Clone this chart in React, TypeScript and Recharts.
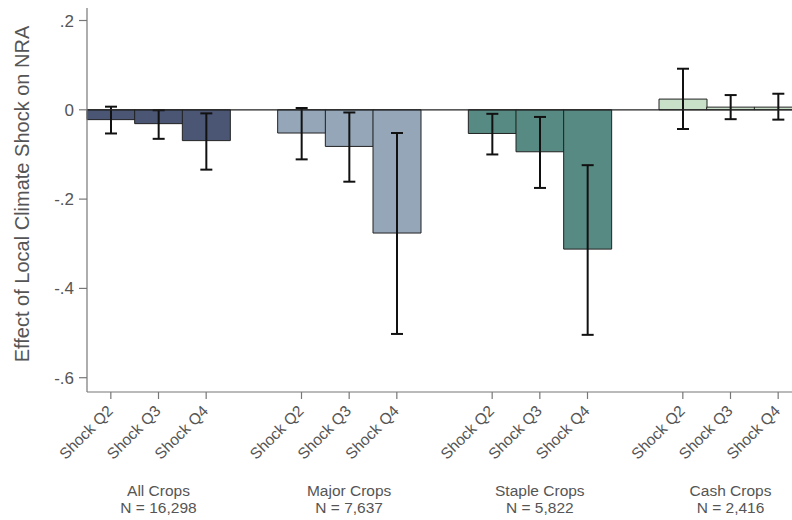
import { Bar, BarChart, Cell, ErrorBar, ReferenceLine, XAxis, YAxis } from 'recharts';

const groups = ['All Crops', 'Major Crops', 'Staple Crops', 'Cash Crops'];
const groupN = ['N = 16,298', 'N = 7,637', 'N = 5,822', 'N = 2,416'];
const shocks = ['Shock Q2', 'Shock Q3', 'Shock Q4'];

// point estimates per group (Q2, Q3, Q4)
const effects = [
  [-0.022, -0.031, -0.069],
  [-0.052, -0.082, -0.276],
  [-0.053, -0.094, -0.312],
  [0.024, 0.006, 0.006],
];
// confidence interval bounds
const ciLow = [
  [-0.053, -0.065, -0.134],
  [-0.111, -0.161, -0.502],
  [-0.1, -0.175, -0.504],
  [-0.043, -0.021, -0.022],
];
const ciHigh = [
  [0.007, -0.001, -0.008],
  [0.004, -0.006, -0.052],
  [-0.009, -0.016, -0.124],
  [0.092, 0.033, 0.036],
];

const yTicks = [-0.6, -0.4, -0.2, 0, 0.2];
const groupColors = ['#4b5674', '#95a6b9', '#578a82', '#c8e0c8'];

type Row = {
  key: string;
  label: string;
  value: number | null;
  err: [number, number] | null;
  group: number;
  mid: boolean;
};

const rows: Row[] = [];
groups.forEach((_, g) => {
  shocks.forEach((s, i) => {
    const v = effects[g][i];
    rows.push({
      key: `g${g}q${i}`,
      label: s,
      value: v,
      err: [v - ciLow[g][i], ciHigh[g][i] - v],
      group: g,
      mid: i === 1,
    });
  });
  if (g < groups.length - 1) {
    rows.push({ key: `gap${g}`, label: '', value: null, err: null, group: -1, mid: false });
  }
});

const AXIS_Y = 392;
const TEXT = '#555';

function fmt(v: number) {
  if (v === 0) return '0';
  const s = v.toFixed(1);
  return s.replace('0.', '.');
}

function XTick(props: any) {
  const { x, index } = props;
  const row = rows[index];
  if (!row || row.group < 0) return null;
  return (
    <g>
      <line x1={x} x2={x} y1={AXIS_Y} y2={AXIS_Y + 7} stroke="#777" strokeWidth={1.2} />
      <text
        x={x + 3}
        y={AXIS_Y + 20}
        textAnchor="end"
        fontSize={15.5}
        fill={TEXT}
        transform={`rotate(-45, ${x + 3}, ${AXIS_Y + 20})`}
      >
        {row.label}
      </text>
      {row.mid && (
        <>
          <text x={x} y={AXIS_Y + 104} textAnchor="middle" fontSize={15.5} fill={TEXT}>
            {groups[row.group]}
          </text>
          <text x={x} y={AXIS_Y + 121} textAnchor="middle" fontSize={15.5} fill={TEXT}>
            {groupN[row.group]}
          </text>
        </>
      )}
    </g>
  );
}

export default function App() {
  return (
    <div
      style={{
        width: 792,
        height: 520,
        overflow: 'hidden',
        position: 'relative',
        background: '#fff',
        fontFamily: '"Liberation Sans", Arial, sans-serif',
      }}
    >
      <style>{'html,body{margin:0;padding:0;overflow:hidden}'}</style>
      <BarChart
        width={810}
        height={520}
        data={rows}
        margin={{ top: 8, right: 8, left: 0, bottom: 0 }}
        barCategoryGap={0}
        barGap={0}
      >
        <XAxis
          dataKey="key"
          interval={0}
          height={128}
          axisLine={{ stroke: '#777', strokeWidth: 1.2 }}
          tickLine={false}
          tick={<XTick />}
        />
        <YAxis
          width={87}
          domain={[-0.632, 0.228]}
          ticks={yTicks}
          allowDataOverflow
          tickFormatter={fmt}
          tick={{ fill: TEXT, fontSize: 17 }}
          axisLine={{ stroke: '#777', strokeWidth: 1.2 }}
          tickLine={{ stroke: '#777', strokeWidth: 1.2 }}
          tickSize={8}
          tickMargin={5}
          label={{
            content: () => (
              <text
                x={29}
                y={194}
                textAnchor="middle"
                fontSize={20}
                fill={TEXT}
                transform="rotate(-90, 29, 194)"
              >
                Effect of Local Climate Shock on NRA
              </text>
            ),
          }}
        />
        <Bar dataKey="value" stroke="#222" strokeWidth={1} isAnimationActive={false}>
          {rows.map((r) => (
            <Cell key={r.key} fill={r.group >= 0 ? groupColors[r.group] : 'none'} />
          ))}
          <ErrorBar dataKey="err" width={6} stroke="#111" strokeWidth={2} />
        </Bar>
        <ReferenceLine y={0} stroke="#222" strokeWidth={1.3} />
      </BarChart>
    </div>
  );
}
